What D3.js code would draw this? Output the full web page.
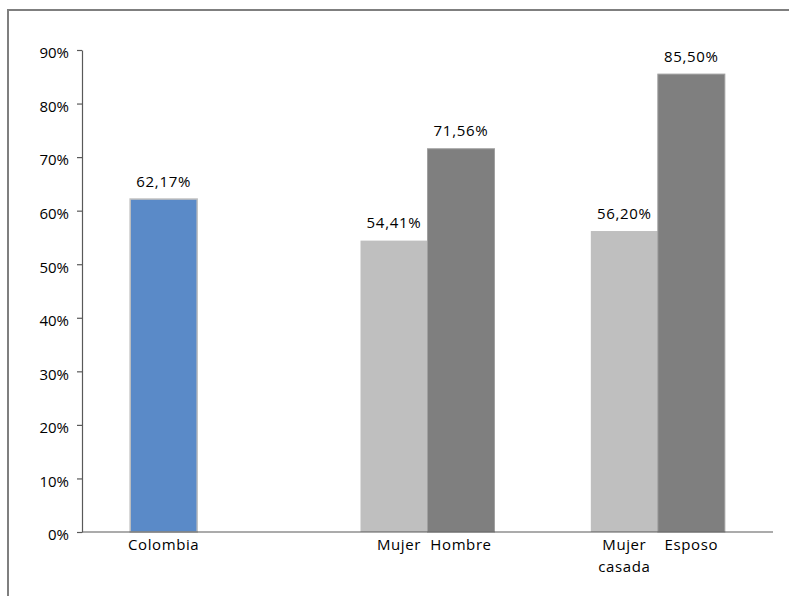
<!DOCTYPE html>
<html>
<head>
<meta charset="utf-8">
<script src="https://cdn.jsdelivr.net/npm/d3@7"></script>
<style>
  html, body { margin: 0; padding: 0; background: #fff; }
  svg { display: block; }
</style>
</head>
<body>
<svg id="chart" width="789" height="596"></svg>
<script>
// Groups along the x axis
const categories = ["Colombia", "Mujer / Hombre", "Mujer casada / Esposo"];
// First bar of each group (overall, women, married women)
const seriesA = [62.17, 54.41, 56.20];
// Second bar of each group (men, husbands); Colombia has none
const seriesB = [null, 71.56, 85.50];
// Per-bar labels under the axis, one array of lines per bar
const labelsA = [["Colombia"], ["Mujer"], ["Mujer", "casada"]];
const labelsB = [[], ["Hombre"], ["Esposo"]];
// Value labels as printed
const valueTextA = ["62,17%", "54,41%", "56,20%"];
const valueTextB = ["", "71,56%", "85,50%"];
// Y axis ticks
const yTicks = [0, 10, 20, 30, 40, 50, 60, 70, 80, 90];

const colorsA = ["#5a8ac8", "#bfbfbf", "#bfbfbf"];
const colorB = "#7f7f7f";
const FONT = "'Open Sans', sans-serif";

const svg = d3.select("#chart");
const plot = { left: 82, right: 773, top: 50, bottom: 532 };

// Outer frame
svg.append("rect")
  .attr("x", 8).attr("y", 10)
  .attr("width", 820).attr("height", 620)
  .attr("fill", "none")
  .attr("stroke", "#7f7f7f")
  .attr("stroke-width", 2);

const x = d3.scaleBand()
  .domain(categories)
  .range([plot.left, plot.right])
  .paddingInner(0).paddingOuter(0);

const barW = 67;
const slot = d3.scaleBand()
  .domain(["A", "B"])
  .range([0, barW * 2]);

const y = d3.scaleLinear().domain([0, 90]).range([plot.bottom, plot.top]);

function slotX(cat, s) {
  return x(cat) + x.bandwidth() / 2 - barW + slot(s);
}

// Y axis
const yAxis = d3.axisLeft(y)
  .tickValues(yTicks)
  .tickFormat(d => d + "%")
  .tickSizeInner(5)
  .tickSizeOuter(0)
  .tickPadding(8);

const gy = svg.append("g")
  .attr("transform", `translate(${plot.left},0)`)
  .call(yAxis);
gy.select(".domain").attr("stroke", "#595959").attr("stroke-width", 1.2);
gy.selectAll(".tick line").attr("stroke", "#595959").attr("stroke-width", 1.2);
gy.selectAll(".tick text")
  .attr("fill", "#000")
  .attr("dy", "0.52em")
  .style("font-family", FONT)
  .style("font-size", "15px");

// Bars: first series
const rows = categories.map((c, i) => ({ c, i, a: seriesA[i], b: seriesB[i] }));

svg.append("g").selectAll("rect")
  .data(rows)
  .join("rect")
  .attr("x", d => slotX(d.c, "A"))
  .attr("y", d => y(d.a))
  .attr("width", slot.bandwidth())
  .attr("height", d => y(0) - y(d.a))
  .attr("fill", d => colorsA[d.i])
  .attr("stroke", d => d.i === 0 ? "#bfbfbf" : "none")
  .attr("stroke-width", 1.5);

// Bars: second series
svg.append("g").selectAll("rect")
  .data(rows.filter(d => d.b != null))
  .join("rect")
  .attr("x", d => slotX(d.c, "B"))
  .attr("y", d => y(d.b))
  .attr("width", slot.bandwidth())
  .attr("height", d => y(0) - y(d.b))
  .attr("fill", colorB)
  .attr("stroke", "#a0a0a0")
  .attr("stroke-width", 1);

// X axis line
svg.append("line")
  .attr("x1", plot.left).attr("x2", plot.right)
  .attr("y1", y(0)).attr("y2", y(0))
  .attr("stroke", "#595959").attr("stroke-width", 1.2);

// Value labels above bars
function valueLabel(cx, v, txt) {
  svg.append("text")
    .attr("x", cx).attr("y", y(v) - 12.5)
    .attr("text-anchor", "middle")
    .style("font-family", FONT)
    .style("font-size", "15px")
    .style("letter-spacing", "0.7px")
    .attr("fill", "#000")
    .text(txt);
}
rows.forEach(d => {
  valueLabel(slotX(d.c, "A") + barW / 2, d.a, valueTextA[d.i]);
  if (d.b != null) valueLabel(slotX(d.c, "B") + barW / 2, d.b, valueTextB[d.i]);
});

// Category labels under the axis
function catLabel(cx, lines) {
  const t = svg.append("text")
    .attr("x", cx).attr("y", y(0) + 18)
    .attr("text-anchor", "middle")
    .style("font-family", FONT)
    .style("font-size", "15px")
    .style("letter-spacing", "0.6px")
    .attr("fill", "#000");
  lines.forEach((ln, k) => {
    t.append("tspan").attr("x", cx).attr("dy", k === 0 ? 0 : 22).text(ln);
  });
}
rows.forEach(d => {
  catLabel(slotX(d.c, "A") + barW / 2 + (d.i === 1 ? 5 : 0), labelsA[d.i]);
  if (labelsB[d.i].length) catLabel(slotX(d.c, "B") + barW / 2, labelsB[d.i]);
});
</script>
</body>
</html>
